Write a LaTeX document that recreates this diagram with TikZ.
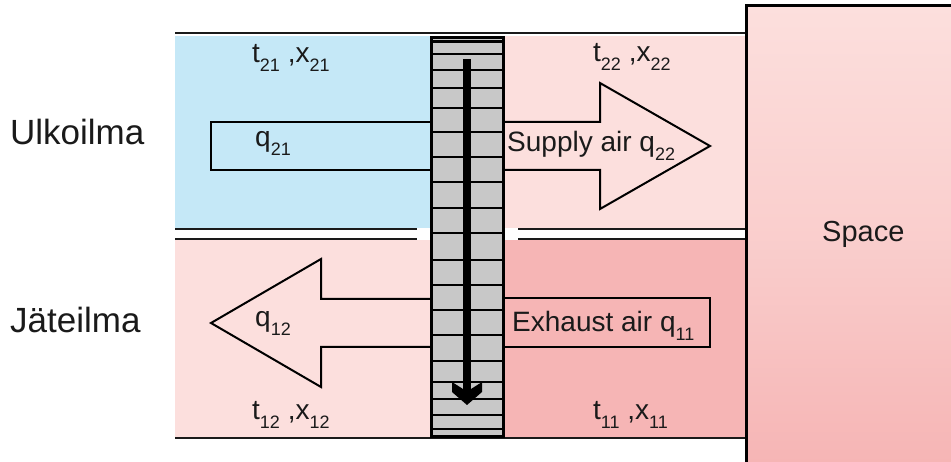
\documentclass[tikz,border=0pt]{standalone}
\usepackage{fontspec}
\setmainfont{Liberation Sans}
\definecolor{blueair}{HTML}{C5E8F7}
\definecolor{pinkl}{HTML}{FCDFDD}
\definecolor{pinkd}{HTML}{F6B5B5}
\definecolor{hxgray}{HTML}{C8C8C8}
\definecolor{inkc}{HTML}{1A1A1A}
\newcommand{\sbs}[1]{\raisebox{-9pt}{\fontsize{18}{18}\selectfont #1}}
\begin{document}
\begin{tikzpicture}[x=1pt,y=-1pt,
  txt/.style={anchor=base west, inner sep=0pt, font=\fontsize{28}{30}\selectfont, text=inkc},
  lbl/.style={anchor=base west, inner sep=0pt, font=\fontsize{35}{38}\selectfont, text=inkc},
  wall/.style={line width=2pt, draw=inkc},
  flow/.style={line width=2pt, draw=black, line join=miter},
  hxline/.style={line width=2.8pt, draw=black}]
\useasboundingbox (0,0) rectangle (951,462);
% channel fills
\fill[blueair] (175,36) rectangle (430,228);
\fill[pinkl] (505,36) rectangle (746,228);
\fill[pinkl] (175,240) rectangle (430,437);
\fill[pinkd] (505,240) rectangle (746,437);
% duct walls
\draw[wall] (175,33) -- (746,33);
\draw[wall] (175,438) -- (746,438);
\draw[wall] (175,229.5) -- (417,229.5);
\draw[wall] (175,239) -- (417,239);
\draw[wall] (518,229.5) -- (746,229.5);
\draw[wall] (518,239) -- (746,239);
% space box
\draw[line width=3pt, top color=pinkl, bottom color=pinkd, middle color=pinkl!60!pinkd] (746,6) rectangle (960,463);
% flows
\draw[flow, fill=pinkl] (505,122) -- (600,122) -- (600,83) -- (710,146) -- (600,209) -- (600,170) -- (505,170);
\draw[flow, fill=blueair] (430,122) -- (211,122) -- (211,170) -- (430,170);
\draw[flow, fill=pinkl] (430,299) -- (321,299) -- (321,259) -- (211,323) -- (321,387) -- (321,347) -- (430,347);
\draw[flow, fill=pinkd] (505,298) -- (710,298) -- (710,347) -- (505,347);
% heat exchanger
\draw[line width=3pt, fill=hxgray] (431.5,37.5) rectangle (503.5,436);
\foreach \yy in {41.5,54,70,88,108,132,157,182,208,233,260,285,310,335,361,382,399,415,429}
  \draw[hxline] (431.5,\yy) -- (503.5,\yy);
\fill (463.3,59) rectangle (470.7,390);
\fill (452,382) -- (463,389) -- (471,389) -- (482,382) -- (482,392) -- (467,405) -- (452,392) -- cycle;
% texts
\node[lbl] (ulko) at (10,145) {Ulkoilma};
\node[lbl] (jate) at (10,333) {Jäteilma};
\node[txt] (t21) at (252,63) {t\sbs{21} ,x\sbs{21}};
\node[txt] (q21) at (255,147) {q\sbs{21}};
\node[txt] (t22) at (593,62) {t\sbs{22} ,x\sbs{22}};
\node[txt] (q22) at (507,152) {Supply air q\sbs{22}};
\node[txt] (q11) at (512,332) {Exhaust air q\sbs{11}};
\node[txt] (t11) at (593,420) {t\sbs{11} ,x\sbs{11}};
\node[txt] (t12) at (252,420) {t\sbs{12} ,x\sbs{12}};
\node[txt] (q12) at (255,327) {q\sbs{12}};
\node[txt, font=\fontsize{29}{31}\selectfont] (space) at (822,242) {Space};
\end{tikzpicture}
\end{document}
